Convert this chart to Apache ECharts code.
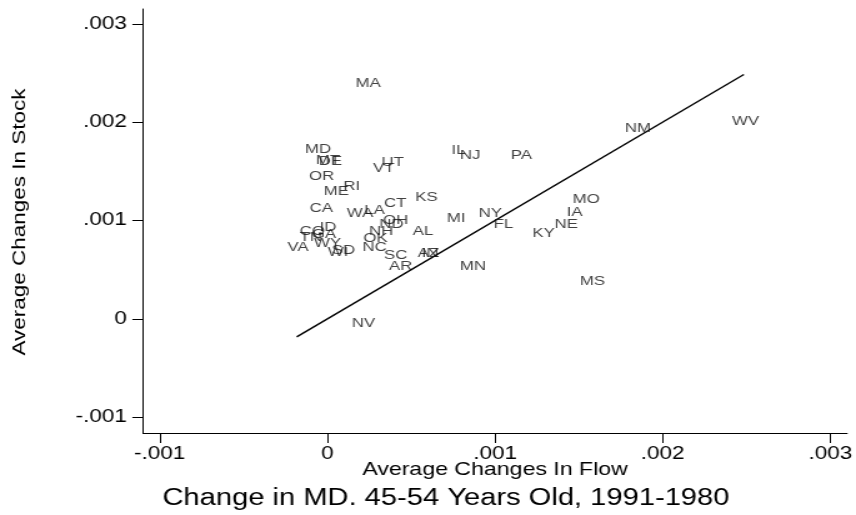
<!DOCTYPE html>
<html>
<head>
<meta charset="utf-8">
<script src="https://cdn.jsdelivr.net/npm/echarts@6/dist/echarts.min.js"></script>
<style>
  html, body { margin: 0; padding: 0; background: #fff; overflow: hidden; }
  /* Text in this figure uses a wide face; the drawing is widened horizontally */
  #chart { width: 685px; height: 515px; transform: scaleX(1.2496); transform-origin: 0 0; }
</style>
</head>
<body>
<div id="chart"></div>
<script>
// State labels with their average change in flow (x) and in stock (y)
const states = ['MA', 'WV', 'NM', 'MD', 'MT', 'DE', 'UT', 'VT', 'OR', 'RI', 'ME', 'CA', 'WA', 'LA',
  'CT', 'KS', 'OH', 'ND', 'NH', 'OK', 'AL', 'ID', 'CO', 'GA', 'TN', 'WY', 'VA', 'WI', 'SD', 'NC',
  'SC', 'AR', 'AZ', 'IN', 'IL', 'NJ', 'PA', 'MI', 'NY', 'FL', 'MO', 'IA', 'NE', 'KY', 'MN', 'MS', 'NV'];
const flow = [0.000161, 0.002405, 0.001766, -0.000142, -0.000077, -0.000060, 0.000314, 0.000265,
  -0.000118, 0.000088, -0.000029, -0.000114, 0.000108, 0.000212, 0.000330, 0.000516, 0.000324,
  0.000301, 0.000240, 0.000206, 0.000501, -0.000055, -0.000173, -0.000100, -0.000173, -0.000088,
  -0.000246, -0.000006, 0.000019, 0.000201, 0.000330, 0.000360, 0.000531, 0.000555, 0.000732,
  0.000783, 0.001087, 0.000704, 0.000895, 0.000983, 0.001455, 0.001420, 0.001347, 0.001215,
  0.000783, 0.001499, 0.000137];
const stock = [0.002390, 0.002009, 0.001935, 0.001721, 0.001615, 0.001605, 0.001589, 0.001531,
  0.001449, 0.001347, 0.001296, 0.001120, 0.001069, 0.001100, 0.001174, 0.001237, 0.001001,
  0.000960, 0.000886, 0.000822, 0.000889, 0.000930, 0.000893, 0.000855, 0.000828, 0.000767,
  0.000723, 0.000679, 0.000696, 0.000723, 0.000642, 0.000537, 0.000662, 0.000662, 0.001711,
  0.001663, 0.001667, 0.001018, 0.001076, 0.000964, 0.001219, 0.001087, 0.000957, 0.000873,
  0.000530, 0.000384, -0.000048];

// Reference line (stock = flow) across the range of the states
const lineFlow = [-0.000183, 0.002484];
const lineStock = [-0.000183, 0.002484];

// Axis ticks
const xTicks = [-0.001, 0, 0.001, 0.002, 0.003];
const yTicks = [-0.001, 0, 0.001, 0.002, 0.003];

const WIDEN = 856 / 685;
const FONT = "'Liberation Sans', Arial, Helvetica, sans-serif";

function tickText(v) {
  if (Math.abs(v) < 1e-12) return '0';
  return v.toFixed(3).replace(/^(-?)0\./, '$1.');
}

const chart = echarts.init(document.getElementById('chart'), null, { renderer: 'canvas' });

const option = {
  backgroundColor: '#ffffff',
  animation: false,
  title: {
    text: 'Change in MD. 45-54 Years Old, 1991-1980',
    left: 125,
    top: 482,
    textStyle: { fontFamily: FONT, fontSize: 23.3, fontWeight: 'normal', color: '#000' }
  },
  grid: { left: 143 / WIDEN, right: 0.8, top: 9, bottom: 82, containLabel: false },
  xAxis: {
    type: 'value',
    min: -0.0011,
    max: 0.0031,
    name: 'Average Changes In Flow',
    nameLocation: 'middle',
    nameGap: 27,
    nameMoveOverlap: false,
    nameTextStyle: { fontFamily: FONT, fontSize: 18.5, color: '#000' },
    axisLine: { show: true, onZero: false, lineStyle: { color: '#000', width: 1 } },
    axisTick: { show: true, length: 10, customValues: xTicks, lineStyle: { color: '#000', width: 1 } },
    axisLabel: { customValues: xTicks, formatter: tickText, margin: 12,
      fontFamily: FONT, fontSize: 18, color: '#000' },
    splitLine: { show: false }
  },
  yAxis: {
    type: 'value',
    min: -0.00116,
    max: 0.00315,
    axisLine: { show: true, onZero: false, lineStyle: { color: '#000', width: 1 } },
    axisTick: { show: true, length: 8.5, customValues: yTicks, lineStyle: { color: '#000', width: 1 } },
    axisLabel: { customValues: yTicks, formatter: tickText, margin: 12.8,
      fontFamily: FONT, fontSize: 18, color: '#000' },
    splitLine: { show: false }
  },
  graphic: [{
    type: 'text',
    x: 19.8 / WIDEN,
    y: 222,
    rotation: Math.PI / 2,
    scaleX: WIDEN,
    scaleY: 1 / WIDEN,
    style: {
      text: 'Average Changes In Stock',
      fontFamily: FONT, fontSize: 18, fill: '#000',
      align: 'center', verticalAlign: 'middle'
    }
  }],
  series: [
    {
      type: 'line',
      data: lineFlow.map((x, i) => [x, lineStock[i]]),
      showSymbol: false,
      symbol: 'none',
      silent: true,
      lineStyle: { color: '#000', width: 1.4 },
      z: 2
    },
    {
      type: 'scatter',
      data: states.map((s, i) => ({ name: s, value: [flow[i], stock[i]] })),
      symbolSize: 0,
      silent: true,
      label: {
        show: true,
        position: 'right',
        distance: 1,
        formatter: p => p.name,
        fontFamily: FONT,
        fontSize: 13.5,
        color: '#111'
      },
      labelLayout: { hideOverlap: false },
      z: 3
    }
  ]
};

chart.setOption(option);
</script>
</body>
</html>
